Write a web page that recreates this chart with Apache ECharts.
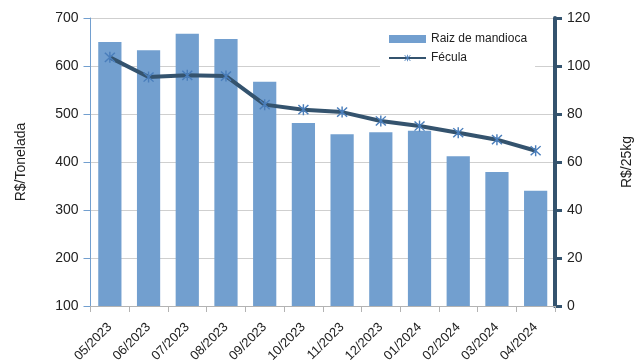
<!DOCTYPE html>
<html>
<head>
<meta charset="utf-8">
<script src="https://cdn.jsdelivr.net/npm/echarts@6/dist/echarts.min.js"></script>
<style>
  html, body { margin: 0; padding: 0; background: #ffffff; }
  #chart { width: 635px; height: 360px; }
</style>
</head>
<body>
<div id="chart"></div>
<script>
// Monthly prices: cassava root (R$/t, left axis) and starch (R$/25kg, right axis)
const months = ['05/2023', '06/2023', '07/2023', '08/2023', '09/2023', '10/2023',
                '11/2023', '12/2023', '01/2024', '02/2024', '03/2024', '04/2024'];
const raizValues = [650, 633, 667, 656, 567, 481, 458, 462, 465, 412, 379, 340];
const feculaValues = [103.6, 95.4, 96.1, 95.8, 83.9, 81.8, 80.8, 77.1, 75.0, 72.2, 69.3, 64.7];
const leftTicks = { min: 100, max: 700, step: 100 };
const rightTicks = { min: 0, max: 120, step: 20 };

// asterisk marker: vertical bar plus two diagonals
const asterisk = 'path://M4.4 0 L5.6 0 L5.6 10 L4.4 10 Z ' +
  'M0.4 1.25 L1.25 0.4 L9.6 8.75 L8.75 9.6 Z ' +
  'M8.75 0.4 L9.6 1.25 L1.25 9.6 L0.4 8.75 Z';

const font = 'Liberation Sans, Arial, sans-serif';
const chart = echarts.init(document.getElementById('chart'), null, { renderer: 'canvas' });

chart.setOption({
  animation: false,
  backgroundColor: '#ffffff',
  textStyle: { fontFamily: font },
  grid: { left: 90.5, right: 80, top: 18, bottom: 54, containLabel: false, outerBoundsMode: 'none' },
  legend: {
    orient: 'vertical',
    left: 380,
    top: 30,
    width: 150,
    padding: [3, 8, 6, 8],
    itemGap: 7,
    itemWidth: 37,
    itemHeight: 8,
    backgroundColor: '#ffffff',
    textStyle: { fontFamily: font, fontSize: 12, color: '#222222' },
    data: [
      { name: 'Raiz de mandioca', icon: 'rect' },
      { name: 'Fécula' }
    ]
  },
  xAxis: {
    type: 'category',
    data: months,
    boundaryGap: true,
    axisLine: { lineStyle: { color: '#b3b3b3', width: 1 } },
    axisTick: { show: true, alignWithLabel: false, length: 6, lineStyle: { color: '#b3b3b3' } },
    axisLabel: { rotate: 45, fontSize: 13, color: '#222222', margin: 19, interval: 0, fontFamily: font },
    splitLine: { show: false }
  },
  yAxis: [
    {
      type: 'value',
      min: leftTicks.min,
      max: leftTicks.max,
      interval: leftTicks.step,
      name: 'R$/Tonelada',
      nameLocation: 'middle',
      nameGap: 62,
      nameRotate: 90,
      nameTextStyle: { fontSize: 14, color: '#222222', fontFamily: font },
      axisLine: { show: true, lineStyle: { color: '#729fcf', width: 1 } },
      axisTick: { show: true, length: 7, lineStyle: { color: '#729fcf' } },
      axisLabel: { fontSize: 14, color: '#222222', margin: 12, fontFamily: font },
      splitLine: { show: true, lineStyle: { color: '#cfcfcf', width: 1 } }
    },
    {
      type: 'value',
      position: 'right',
      min: rightTicks.min,
      max: rightTicks.max,
      interval: rightTicks.step,
      name: 'R$/25kg',
      nameLocation: 'middle',
      nameGap: 65,
      nameRotate: 90,
      nameTextStyle: { fontSize: 14, color: '#222222', fontFamily: font },
      axisLine: { show: true, lineStyle: { color: '#34536e', width: 4 } },
      axisTick: { show: true, length: 7, lineStyle: { color: '#34536e', width: 3 } },
      axisLabel: { fontSize: 14, color: '#222222', margin: 12, fontFamily: font },
      splitLine: { show: false }
    }
  ],
  series: [
    {
      name: 'Raiz de mandioca',
      type: 'bar',
      data: raizValues,
      yAxisIndex: 0,
      barWidth: '60%',
      itemStyle: { color: '#729fcf' }
    },
    {
      name: 'Fécula',
      type: 'line',
      data: feculaValues,
      yAxisIndex: 1,
      symbol: asterisk,
      symbolSize: 11,
      z: 5,
      lineStyle: { color: '#34536e', width: 4 },
      itemStyle: { color: '#4a7ebb' }
    }
  ]
});
</script>
</body>
</html>
